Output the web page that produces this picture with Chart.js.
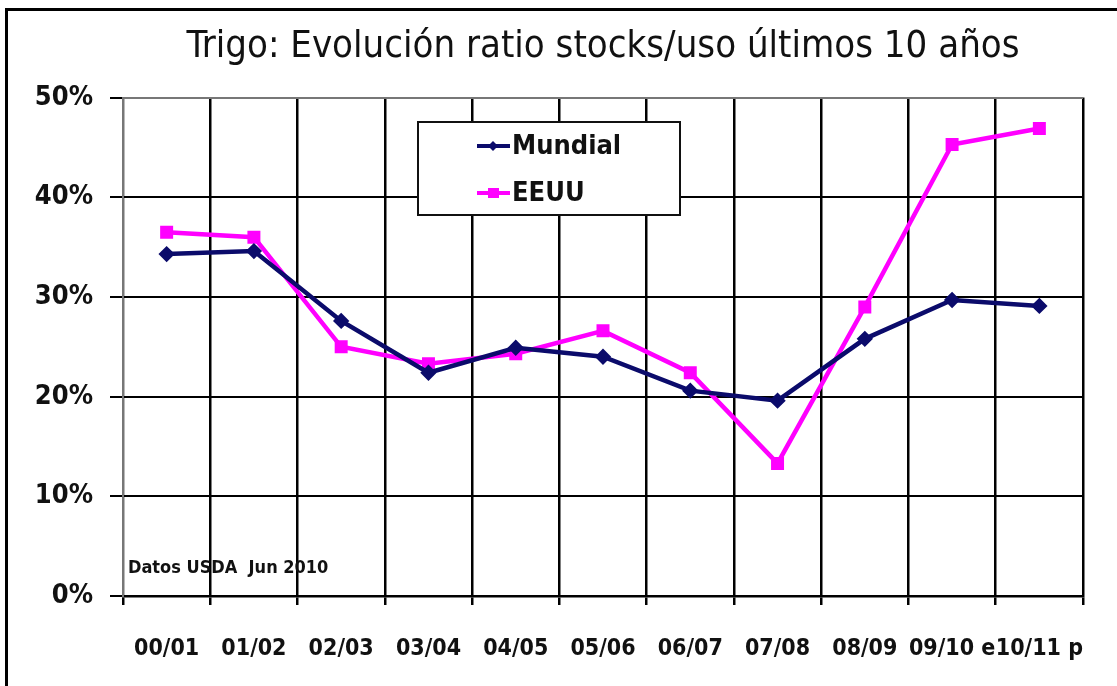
<!DOCTYPE html>
<html>
<head>
<meta charset="utf-8">
<script src="https://cdn.jsdelivr.net/npm/chart.js@4.4.0/dist/chart.umd.min.js"></script>
<style>
  html, body { margin: 0; padding: 0; background: #fff; }
  #wrap { position: relative; width: 1117px; height: 686px; }
  #wrap:before { content: ""; position: absolute; left: 5px; top: 8px; right: 0; bottom: 0;
    border-left: 3px solid #000; border-top: 3px solid #000; }
</style>
</head>
<body>
<div id="wrap"><canvas id="mycanvas" width="1117" height="686"></canvas></div>
<script>
var FONT = '"Liberation Sans Narrow", "DejaVu Sans Condensed", "Arial Narrow", sans-serif';

// data
var campanas = ['00/01', '01/02', '02/03', '03/04', '04/05', '05/06', '06/07', '07/08', '08/09', '09/10 e', '10/11 p'];
var mundial = [34.3, 34.6, 27.6, 22.4, 24.9, 24.0, 20.6, 19.6, 25.8, 29.7, 29.1];
var eeuu = [36.5, 36.0, 25.0, 23.3, 24.3, 26.6, 22.4, 13.3, 29.0, 45.3, 46.9];
var yTicks = [0, 10, 20, 30, 40, 50];
var fuente = 'Datos USDA  Jun 2010';

// caja de leyenda y nota, dibujadas a mano
var extras = {
  id: 'extras',
  afterLayout: function(chart) {
    // centrar el titulo sobre el area del grafico
    if (chart.titleBlock) {
      chart.titleBlock.left = chart.chartArea.left;
      chart.titleBlock.right = chart.chartArea.right;
    }
  },
  afterDraw: function(chart) {
    var ctx = chart.ctx;
    var a = chart.chartArea;
    ctx.save();
    // nota de fuente
    ctx.fillStyle = '#111';
    ctx.font = 'bold 18px ' + FONT;
    ctx.textBaseline = 'middle';
    ctx.textAlign = 'left';
    ctx.fillText(fuente, a.left + 5, a.bottom - 28);

    // leyenda
    var bx = 418, by = 122, bw = 262, bh = 93;
    ctx.fillStyle = '#fff';
    ctx.fillRect(bx, by, bw, bh);
    ctx.strokeStyle = '#111';
    ctx.lineWidth = 2;
    ctx.strokeRect(bx, by, bw, bh);
    chart.data.datasets.forEach(function(ds, i) {
      var y = by + 24 + i * 47;
      ctx.strokeStyle = ds.borderColor;
      ctx.lineWidth = 4;
      ctx.beginPath();
      ctx.moveTo(bx + 59, y);
      ctx.lineTo(bx + 92, y);
      ctx.stroke();
      ctx.fillStyle = ds.borderColor;
      if (ds.pointStyle == 'rect') {
        ctx.fillRect(bx + 70, y - 5, 11, 10);
      } else {
        ctx.beginPath();
        ctx.moveTo(bx + 75, y - 5);
        ctx.lineTo(bx + 80, y);
        ctx.lineTo(bx + 75, y + 5);
        ctx.lineTo(bx + 70, y);
        ctx.closePath();
        ctx.fill();
      }
      ctx.fillStyle = '#111';
      ctx.font = 'bold 27px ' + FONT;
      ctx.textBaseline = 'middle';
      ctx.fillText(ds.label, bx + 94, y + 1);
    });
    ctx.restore();
  }
};

var ctx = document.getElementById('mycanvas');
var grafico = new Chart(ctx, {
  type: 'line',
  data: {
    labels: campanas,
    datasets: [
      {
        label: 'Mundial',
        data: mundial,
        borderColor: '#0b0b6b',
        backgroundColor: '#0b0b6b',
        borderWidth: 4.5,
        pointStyle: 'rectRot',
        pointRadius: 5,
        tension: 0
      },
      {
        label: 'EEUU',
        data: eeuu,
        borderColor: '#ff00ff',
        backgroundColor: '#ff00ff',
        borderWidth: 4.5,
        pointStyle: 'rect',
        pointRadius: 6,
        tension: 0
      }
    ]
  },
  options: {
    responsive: false,
    animation: false,
    layout: { padding: { left: 0, right: 34, top: 0, bottom: 0 } },
    plugins: {
      legend: { display: false },
      tooltip: { enabled: false },
      title: {
        display: true,
        text: 'Trigo: Evolución ratio stocks/uso últimos 10 años',
        color: '#111',
        font: { family: FONT, size: 38, weight: 'normal' },
        padding: { top: 24, bottom: 28 }
      }
    },
    scales: {
      x: {
        offset: true,
        grid: {
          offset: true,
          color: function(c) { return (c.index == 0 || c.index == campanas.length) ? '#777' : '#000'; },
          lineWidth: 2.5,
          tickLength: 9,
          tickColor: '#000'
        },
        border: { display: true, color: '#000', width: 2.5 },
        ticks: {
          color: '#111',
          font: { family: FONT, size: 23, weight: 'bold' },
          padding: 30,
          maxRotation: 0,
          autoSkip: false
        },
        afterFit: function(s) { s.height = 90; }
      },
      y: {
        min: 0,
        max: 50,
        afterBuildTicks: function(s) { s.ticks = yTicks.map(function(v) { return { value: v }; }); },
        grid: {
          color: function(c) { return c.tick && c.tick.value == 50 ? '#777' : '#000'; },
          lineWidth: 2,
          tickLength: 13,
          tickColor: '#000'
        },
        border: { display: true, color: '#777', width: 2 },
        ticks: {
          color: '#111',
          font: { family: FONT, size: 27, weight: 'bold' },
          padding: 17,
          callback: function(v) { return v + '%'; }
        },
        afterFit: function(s) { s.width = 123; }
      }
    }
  },
  plugins: [extras]
});
</script>
</body>
</html>
